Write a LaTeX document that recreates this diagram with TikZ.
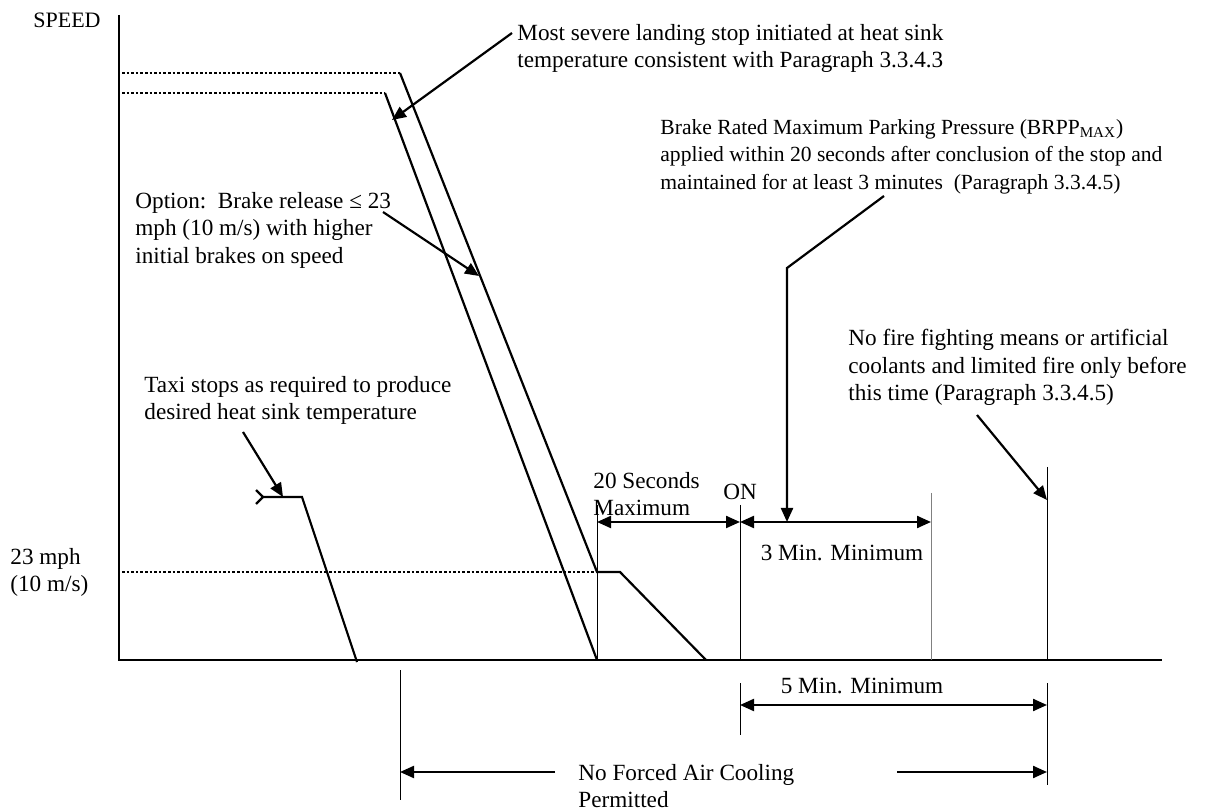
\documentclass[tikz,border=0pt]{standalone}
\usepackage{fontspec}
\setmainfont{Liberation Serif}
\usetikzlibrary{arrows.meta,positioning}

\begin{document}
\begin{tikzpicture}[x=0.5pt,y=-0.5pt,
  note/.style={font=\fontsize{11.6}{13.75}\selectfont,align=left,anchor=north west,inner sep=0pt},
  axisline/.style={line width=0.8pt},
  curve/.style={line width=1.1pt},
  level/.style={line width=1.3pt,densely dotted},
  timeline/.style={line width=0.5pt},
  pointer/.style={-{Triangle[length=7pt,width=6pt]},line width=1.1pt},
  span/.style={{Triangle[length=7pt,width=6pt]}-{Triangle[length=7pt,width=6pt]},line width=1.1pt},
]
\useasboundingbox (0,0) rectangle (1211,812);

% Axes
\coordinate (origin) at (119,660);
\coordinate (ytop) at (119,15);
\coordinate (xend) at (1162,660);
\draw[axisline] (ytop) -- (origin) -- (xend);
\node[note,anchor=west,font=\fontsize{11}{13.75}\selectfont] (speed) at (33,20) {SPEED};
\node[note] (low) at (10,548) {23 mph\\(10 m/s)};

% Speed levels
\coordinate (hi1) at (400,73);
\coordinate (hi2) at (385,93);
\coordinate (rel) at (597,572);
\draw[level] (122,73) -- (hi1);
\draw[level] (122,93) -- (hi2);
\draw[level] (122,572) -- (rel);

% Landing stops
\coordinate (stop) at (597,660);
\coordinate (relend) at (620,572);
\coordinate (roll) at (706,660);
\draw[curve] (hi1) -- (rel) -- (relend) -- (roll);
\draw[curve] (hi2) -- (stop);

% Taxi stop
\coordinate (taxi0) at (263,497);
\coordinate (taxi1) at (302,497);
\coordinate (taxi2) at (357,662);
\draw[curve] (taxi0) -- (taxi1) -- (taxi2);
\draw[curve] (256,490) -- (taxi0) -- (256,504);

% Time marks
\coordinate (on) at (740,522);
\coordinate (threemin) at (931,522);
\coordinate (fire) at (1047,500);
\draw[timeline] (597,505) -- (stop);
\draw[timeline] (740,505) -- (740,660);
\draw[timeline,gray] (931,493) -- (931,660);
\draw[timeline] (1047,467) -- (1047,660);
\draw[timeline] (1047,683) -- (1047,785);
\draw[timeline] (740,683) -- (740,735);
\draw[timeline] (400,670) -- (400,800);

% Intervals
\draw[span] (597,522) -- (on);
\draw[span] (on) -- (threemin);
\draw[span] (740,705) -- (1047,705);
\draw[pointer] (555,772) -- (400,772);
\draw[pointer] (897,772) -- (1047,772);

\node[note] (twenty) at (593,472) {20 Seconds\\Maximum};
\node[note] (onlbl) at (723,484) {ON};
\node[note,anchor=north] (three) at (842,545) {3 Min. Minimum};
\node[note,anchor=north] (five) at (862,678) {5 Min. Minimum};
\node[note] (noair) at (578,764) {No Forced Air Cooling\\Permitted};

% Callouts
\node[note] (severe) at (517,24) {Most severe landing stop initiated at heat sink\\temperature consistent with Paragraph 3.3.4.3};
\coordinate (severe from) at (512,33);
\coordinate (severe to) at (392,120);
\draw[pointer] (severe from) -- (severe to);

\node[note] (option) at (135,192) {Option:\ \ Brake release ≤ 23\\mph (10 m/s) with higher\\initial brakes on speed};
\coordinate (option from) at (383,212);
\coordinate (option to) at (479,276);
\draw[pointer] (option from) -- (option to);

\node[note] (taxi) at (144,376) {Taxi stops as required to produce\\desired heat sink temperature};
\coordinate (taxi from) at (243,432);
\coordinate (taxi to) at (283,497);
\draw[pointer] (taxi from) -- (taxi to);

\node[note,font=\fontsize{10.8}{13.75}\selectfont] (brpp) at (660,119) {Brake Rated Maximum Parking Pressure (BRPP\textsubscript{MAX})\\applied within 20 seconds after conclusion of the stop and\\maintained for at least 3 minutes\ \ (Paragraph 3.3.4.5)};
\coordinate (brpp from) at (884,196);
\coordinate (brpp bend) at (787,268);
\coordinate (brpp to) at (787,522);
\draw[pointer] (brpp from) -- (brpp bend) -- (brpp to);

\node[note] (nofire) at (848,329) {No fire fighting means or artificial\\coolants and limited fire only before\\this time (Paragraph 3.3.4.5)};
\coordinate (nofire from) at (977,415);
\draw[pointer] (nofire from) -- (fire);

\end{tikzpicture}
\end{document}
